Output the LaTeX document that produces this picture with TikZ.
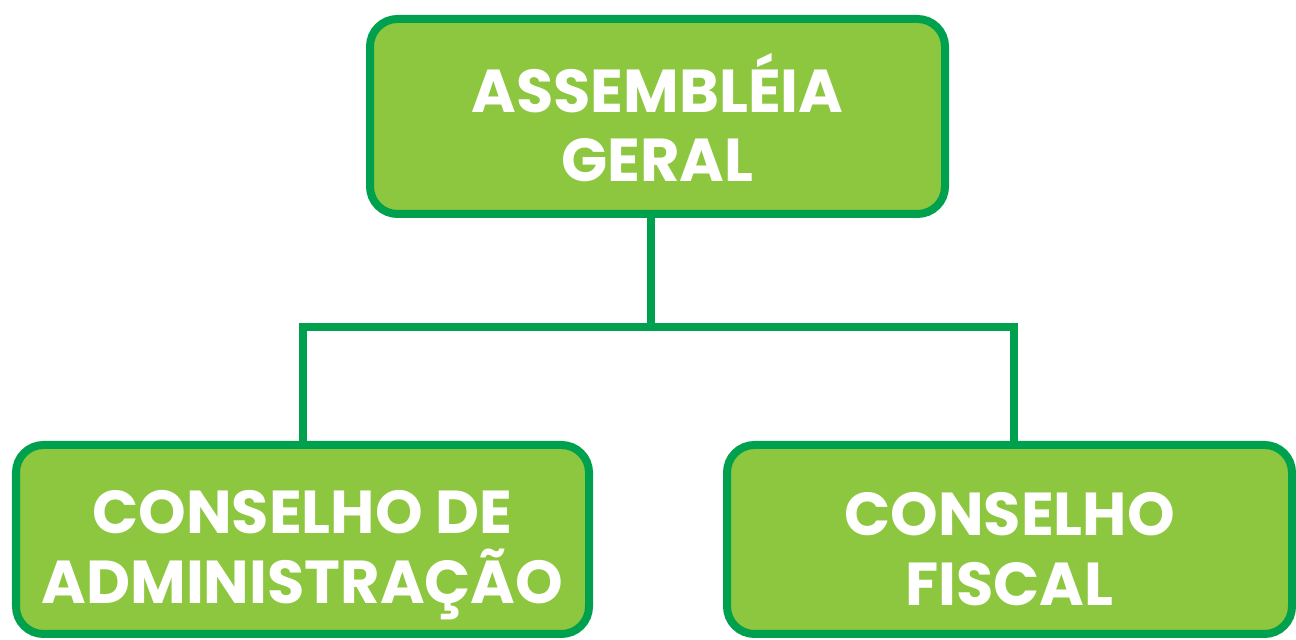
\documentclass[tikz,border=0pt]{standalone}
\usepackage{fontspec}
\setmainfont{Poppins}
\usepackage{xcolor}

\definecolor{boxgreen}{HTML}{8DC63F}
\definecolor{linegreen}{HTML}{00A14E}

\tikzset{
    orgbox/.style={rectangle, rounded corners=0.55cm, draw=linegreen, fill=boxgreen,
        line width=0.16cm},
    boxtext/.style={text=white, align=center,
        font=\bfseries\fontsize{34.5}{39.7}\selectfont},
    link/.style={draw=linegreen, line width=0.16cm}
}

\begin{document}
\begin{tikzpicture}
    \useasboundingbox (0,0) rectangle (25.92,12.8);

                % Boxes
                \node (ag) [orgbox, minimum width=11.5cm, minimum height=3.9cm] at (13.15,10.47) {};
                \node (ca) [orgbox, minimum width=11.46cm, minimum height=3.78cm] at (6.05,2.01) {};
                \node (cf) [orgbox, minimum width=11.3cm, minimum height=3.78cm] at (20.19,2.01) {};

                % Texts
                \node (agtext) [boxtext] at ([yshift=-0.02cm]ag.center) {ASSEMBLÉIA\\GERAL};
                \node (catext) [boxtext] at ([yshift=-0.32cm]ca.center) {CONSELHO DE\\ADMINISTRAÇÃO};
                \node (cftext) [boxtext] at ([yshift=-0.2cm]cf.center) {CONSELHO\\FISCAL};

                % Connectors
                \coordinate (hub) at ([xshift=-0.13cm]ag.south |- 0,6.26);
                \draw[link] ([xshift=-0.13cm]ag.south) -- (hub);
                \draw[link] (hub) -| (ca.north);
                \draw[link] (hub) -| ([xshift=0.09cm]cf.north);

\end{tikzpicture}
\end{document}
